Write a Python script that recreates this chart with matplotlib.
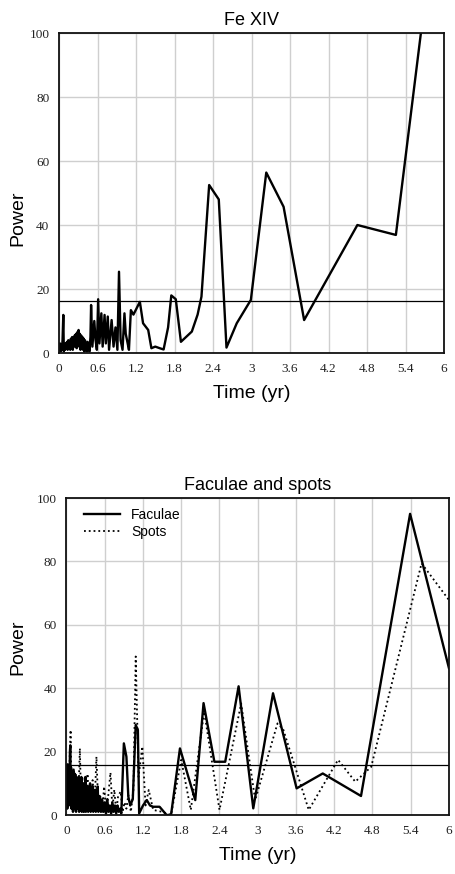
import matplotlib
matplotlib.use("Agg")
import matplotlib.pyplot as plt

# Fe XIV periodogram (period in years, power)
fe_x = [0.005, 0.015, 0.025, 0.035, 0.045, 0.055, 0.067, 0.075, 0.085, 0.095,
        0.105, 0.115, 0.125, 0.135, 0.145, 0.155, 0.165, 0.175, 0.185, 0.195,
        0.205, 0.215, 0.225, 0.235, 0.245, 0.255, 0.265, 0.275, 0.285, 0.295,
        0.305, 0.315, 0.325, 0.335, 0.345, 0.355, 0.365, 0.375, 0.385, 0.395,
        0.405, 0.415, 0.425, 0.435, 0.445, 0.455, 0.465, 0.475, 0.49,
        0.50, 0.52, 0.55, 0.57, 0.59, 0.61, 0.63, 0.66, 0.68, 0.71, 0.73,
        0.76, 0.78, 0.82, 0.85, 0.88, 0.91, 0.935, 0.96, 0.99, 1.02, 1.04, 1.07,
        1.09, 1.12, 1.16, 1.21, 1.26, 1.31, 1.39, 1.44, 1.50, 1.57, 1.63, 1.70,
        1.75, 1.82, 1.90, 2.07, 2.16, 2.22, 2.34, 2.49, 2.61, 2.77, 2.99, 3.23,
        3.50, 3.82, 4.65, 5.25, 5.85]
fe_y = [1, 3, 0.5, 2, 1, 4, 11.9, 0.5, 2.5, 1,
        3, 1.5, 3.5, 1, 4, 2, 3, 1, 4.5, 2,
        5, 1, 3.5, 2, 5.5, 3, 6, 1.5, 6.5, 3,
        7.2, 2, 6, 1, 5.5, 2, 5, 1, 4.5, 0.5,
        4, 1, 3, 0.5, 3.5, 1, 2.5, 0.5, 5,
        15, 2, 10, 4, 1, 16.8, 3, 12.4, 2, 11.9, 3,
        11.4, 1, 10.3, 2, 8, 1, 25.4, 4, 1, 12.4, 6, 3,
        1, 13.4, 12, 14, 16, 9.3, 7.2, 1.5, 2, 1.5, 1.1, 8,
        18, 16.8, 3.5, 6.7, 12, 17.6, 52.5, 48, 1.7, 9.3, 16.6, 56.4,
        45.7, 10.3, 40, 36.9, 134]
fe_level = 16.2

# Faculae and spots periodograms
fac_x = [0.0, 0.006, 0.012, 0.018, 0.024, 0.030, 0.036, 0.042, 0.048, 0.054,
         0.060, 0.066, 0.072, 0.078, 0.084, 0.090, 0.096, 0.102, 0.108, 0.114,
         0.120, 0.126, 0.132, 0.138, 0.144, 0.150, 0.156, 0.162, 0.168, 0.174,
         0.180, 0.186, 0.192, 0.198, 0.205, 0.212, 0.219, 0.226, 0.233, 0.240,
         0.248, 0.256, 0.264, 0.272, 0.280, 0.288, 0.296, 0.304, 0.312, 0.320,
         0.330, 0.340, 0.350, 0.360, 0.370, 0.380, 0.390, 0.400, 0.410, 0.420,
         0.430, 0.440, 0.450, 0.460, 0.470, 0.480, 0.490, 0.500,
         0.52, 0.54, 0.56, 0.58, 0.60, 0.62, 0.64, 0.66, 0.68, 0.70,
         0.72, 0.74, 0.76, 0.78, 0.80, 0.82, 0.84, 0.86,
         0.90, 0.94, 0.97, 1.00, 1.04, 1.086, 1.12, 1.14, 1.20, 1.26, 1.31, 1.36,
         1.46, 1.57, 1.64, 1.78, 2.02, 2.15, 2.32, 2.49, 2.70, 2.93, 3.24, 3.61,
         4.02, 4.62, 5.39, 6.0]
fac_y = [3, 14, 2, 16, 5, 11, 3, 13, 6, 20,
         22, 4, 15, 2, 13, 5, 12, 1, 14, 3,
         10, 2, 13, 4, 9, 1, 12, 3, 11, 2,
         10, 4, 12, 1, 9, 3, 11, 2, 12, 1,
         8, 3, 10, 1, 9, 2, 12, 1, 7, 3,
         9, 1, 8, 2, 10, 1, 7, 3, 9, 1,
         6, 2, 8, 1, 7, 2, 9, 1,
         6, 1, 5, 1, 4, 0.5, 5, 1, 3, 0.5,
         4, 1, 3, 0.5, 3, 1, 2, 0.5,
         22.6, 18.4, 5.8, 3, 5, 28.4, 26.8, 0.5, 3, 4.7, 3, 2.6,
         2.6, 0, 0, 21, 4.7, 35.3, 16.8, 16.8, 40.6, 2.1, 38.4, 8.4,
         13.1, 6, 95, 46.3]

spot_x = [0.0, 0.01, 0.02, 0.03, 0.04, 0.05, 0.065, 0.08, 0.09, 0.10, 0.11, 0.12,
          0.13, 0.14, 0.15, 0.16, 0.17, 0.18, 0.19, 0.21, 0.23, 0.25, 0.27, 0.29,
          0.31, 0.33, 0.35, 0.37, 0.39, 0.41, 0.43, 0.45, 0.47, 0.50, 0.53, 0.56,
          0.59, 0.62, 0.65, 0.69, 0.72, 0.75, 0.78, 0.81, 0.85, 0.88, 0.91, 0.94,
          0.97, 1.01, 1.05, 1.086, 1.13, 1.19, 1.24, 1.29, 1.36, 1.50, 1.64, 1.80,
          1.95, 2.16, 2.40, 2.74, 2.96, 3.31, 3.40, 3.80, 4.26, 4.53, 4.78, 5.57,
          6.0]
spot_y = [3, 10, 2, 14, 4, 18, 26.8, 3, 12, 2, 15, 4,
          9, 1, 13, 3, 11, 2, 8, 21, 3, 12, 1, 10,
          2, 13, 1, 9, 3, 11, 1, 8, 18.4, 2, 6, 1,
          9, 2, 5, 13.4, 2, 8, 1, 6, 7.4, 1, 4, 2,
          6.3, 1, 8, 50, 12, 21.6, 3, 7.9, 1.6, 1, 0, 17.4,
          1.6, 32.6, 1.6, 35.2, 4.7, 28.9, 27, 1.6, 17.4, 10.5, 15.2, 79.4,
          67.8]
fs_level = 15.8

x_ticks = [0, 0.6, 1.2, 1.8, 2.4, 3, 3.6, 4.2, 4.8, 5.4, 6]
x_tick_labels = ["0", "0.6", "1.2", "1.8", "2.4", "3", "3.6", "4.2", "4.8", "5.4", "6"]
y_ticks = [0, 20, 40, 60, 80, 100]

assert len(fe_x) == len(fe_y)
assert len(fac_x) == len(fac_y)
assert len(spot_x) == len(spot_y)

SANS = "Liberation Sans"
SERIF = "Liberation Serif"
GRID = "#cfcfcf"


def style_axes(ax, title, label_x, label_y):
    ax.set_xlim(0, 6)
    ax.set_ylim(0, 100)
    ax.set_xticks(x_ticks)
    ax.set_xticklabels(x_tick_labels)
    ax.set_yticks(y_ticks)
    ax.tick_params(length=0, pad=7, labelsize=9.5, labelcolor="#222222")
    for lab in ax.get_xticklabels() + ax.get_yticklabels():
        lab.set_family(SERIF)
    ax.grid(True, color=GRID, lw=1.0)
    ax.set_axisbelow(True)
    for sp in ax.spines.values():
        sp.set_color("#111111")
        sp.set_linewidth(1.3)
    ax.set_title(title, family=SANS, fontsize=13, pad=6)
    ax.set_xlabel("Time (yr)", family=SANS, fontsize=14)
    ax.set_ylabel("Power", family=SANS, fontsize=14)
    ax.xaxis.set_label_coords(0.5, -0.1)
    ax.yaxis.set_label_coords(label_x, label_y)


fig = plt.figure(figsize=(4.56, 8.74), dpi=100)

ax1 = fig.add_axes([0.1294, 0.5961, 0.8443, 0.3661])
ax1.plot(fe_x, fe_y, color="black", lw=1.7)
ax1.axhline(fe_level, color="black", lw=0.9)
style_axes(ax1, "Fe XIV", -0.085, 0.42)

ax2 = fig.add_axes([0.1458, 0.0675, 0.8388, 0.3627])
ax2.plot(fac_x, fac_y, color="black", lw=1.7, label="Faculae")
ax2.plot(spot_x, spot_y, color="black", lw=1.3, ls=":", label="Spots")
ax2.axhline(fs_level, color="black", lw=0.9)
style_axes(ax2, "Faculae and spots", -0.105, 0.53)
ax2.legend(loc="upper left", frameon=False, prop={"family": SANS, "size": 10},
           handlelength=2.6, handletextpad=0.8, labelspacing=0.2,
           borderaxespad=0.3, bbox_to_anchor=(0.02, 1.0))

fig.savefig("out.png", dpi=100)
